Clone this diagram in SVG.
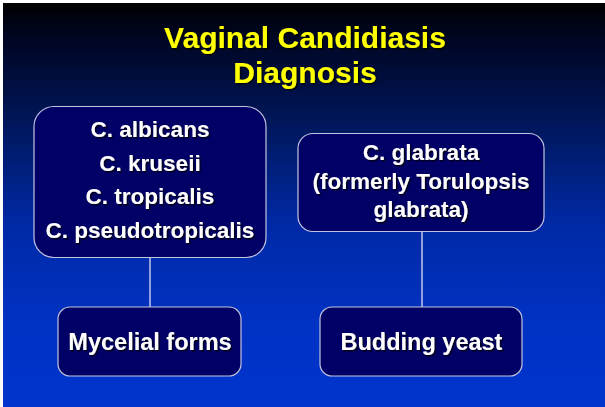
<svg xmlns="http://www.w3.org/2000/svg" width="605" height="407" viewBox="0 0 605 407">
<defs>
<linearGradient id="bg" x1="0" y1="0" x2="0" y2="1">
<stop offset="0" stop-color="#000000"/>
<stop offset="0.08" stop-color="#000520"/>
<stop offset="0.3" stop-color="#00175c"/>
<stop offset="0.55" stop-color="#0029a6"/>
<stop offset="0.8" stop-color="#0032c4"/>
<stop offset="1" stop-color="#0034cc"/>
</linearGradient>
<filter id="sh" x="-10%" y="-20%" width="130%" height="150%">
<feDropShadow dx="1.5" dy="1.5" stdDeviation="0.6" flood-color="#000000" flood-opacity="0.75"/>
</filter>
<style>
.box{fill:#000066;stroke:#c4c4e0;stroke-width:1.2}
.t{font-family:"Liberation Sans",Arial,sans-serif;font-weight:bold;fill:#ffffff;text-anchor:middle;filter:url(#sh)}
.title{font-family:"Liberation Sans",Arial,sans-serif;font-weight:bold;fill:#ffff00;text-anchor:middle;font-size:30px;filter:url(#sh)}
.c{stroke:#e0e0f0;stroke-width:1.3;fill:none}
</style>
</defs>
<rect x="0" y="0" width="605" height="407" fill="#ffffff"/>
<rect x="3" y="3" width="602" height="404" fill="url(#bg)"/>
<g id="title">
<text class="title" x="305" y="48">Vaginal Candidiasis</text>
<text class="title" x="305" y="83">Diagnosis</text>
</g>
<g id="connectors">
<line class="c" x1="150" y1="257" x2="150" y2="307"/>
<line class="c" x1="422" y1="231" x2="422" y2="307"/>
</g>
<g id="species-mycelial">
<rect class="box" x="34" y="106.5" width="232" height="151" rx="20"/>
<text class="t" x="150" y="137" font-size="22.5">C. albicans</text>
<text class="t" x="150" y="170.5" font-size="22.5">C. kruseii</text>
<text class="t" x="150" y="204" font-size="22.5">C. tropicalis</text>
<text class="t" x="150" y="237.5" font-size="22.5">C. pseudotropicalis</text>
</g>
<g id="species-glabrata">
<rect class="box" x="298" y="133.5" width="246" height="98" rx="15"/>
<text class="t" x="421" y="160" font-size="22.5">C. glabrata</text>
<text class="t" x="421" y="189" font-size="22.5">(formerly Torulopsis</text>
<text class="t" x="421" y="217" font-size="22.5">glabrata)</text>
</g>
<g id="mycelial-forms">
<rect class="box" x="58" y="307" width="183" height="69" rx="12"/>
<text class="t" x="150" y="350" font-size="23.5">Mycelial forms</text>
</g>
<g id="budding-yeast">
<rect class="box" x="320" y="307" width="202" height="69" rx="12"/>
<text class="t" x="421.5" y="350" font-size="23.5">Budding yeast</text>
</g>
</svg>
